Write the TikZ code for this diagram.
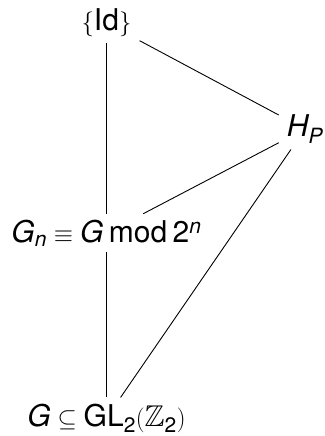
\documentclass[tikz,border=0pt]{standalone}
\usepackage{amssymb}
\usepackage{fontspec}
\setmainfont{TeX Gyre Heros}
\newcommand{\itl}[1]{\mathit{#1}}
\newcommand{\upr}[1]{\mathrm{#1}}
\begin{document}
\begin{tikzpicture}[x=1bp,y=-1bp,
  grp/.style={inner xsep=8bp, inner ysep=6bp, font=\fontsize{30bp}{36bp}\selectfont},
  link/.style={line width=0.9bp, black}]
\useasboundingbox (0,0) rectangle (324,436);
\node[grp] (id) at (106.5,23) {$\{\upr{Id}\}$};
\node[grp] (hp) at (305,129) {$\itl{H}_{\itl{P}}$};
\node[grp] (gn) at (106.5,233) {$\itl{G}_{\itl{n}} \equiv \itl{G}\mkern4mu\upr{mod}\mkern4mu \upr{2}^{\itl{n}}$};
\node[grp] (g) at (106.5,418) {$\itl{G} \subseteq \upr{GL}_{\upr{2}}(\mathbb{Z}_{\upr{2}})$};
\draw[link] (id) -- (gn);
\draw[link] (gn) -- (g);
\draw[link] (id) -- (hp);
\draw[link] (hp) -- (gn);
\draw[link] (hp) -- (g);
\end{tikzpicture}
\end{document}
